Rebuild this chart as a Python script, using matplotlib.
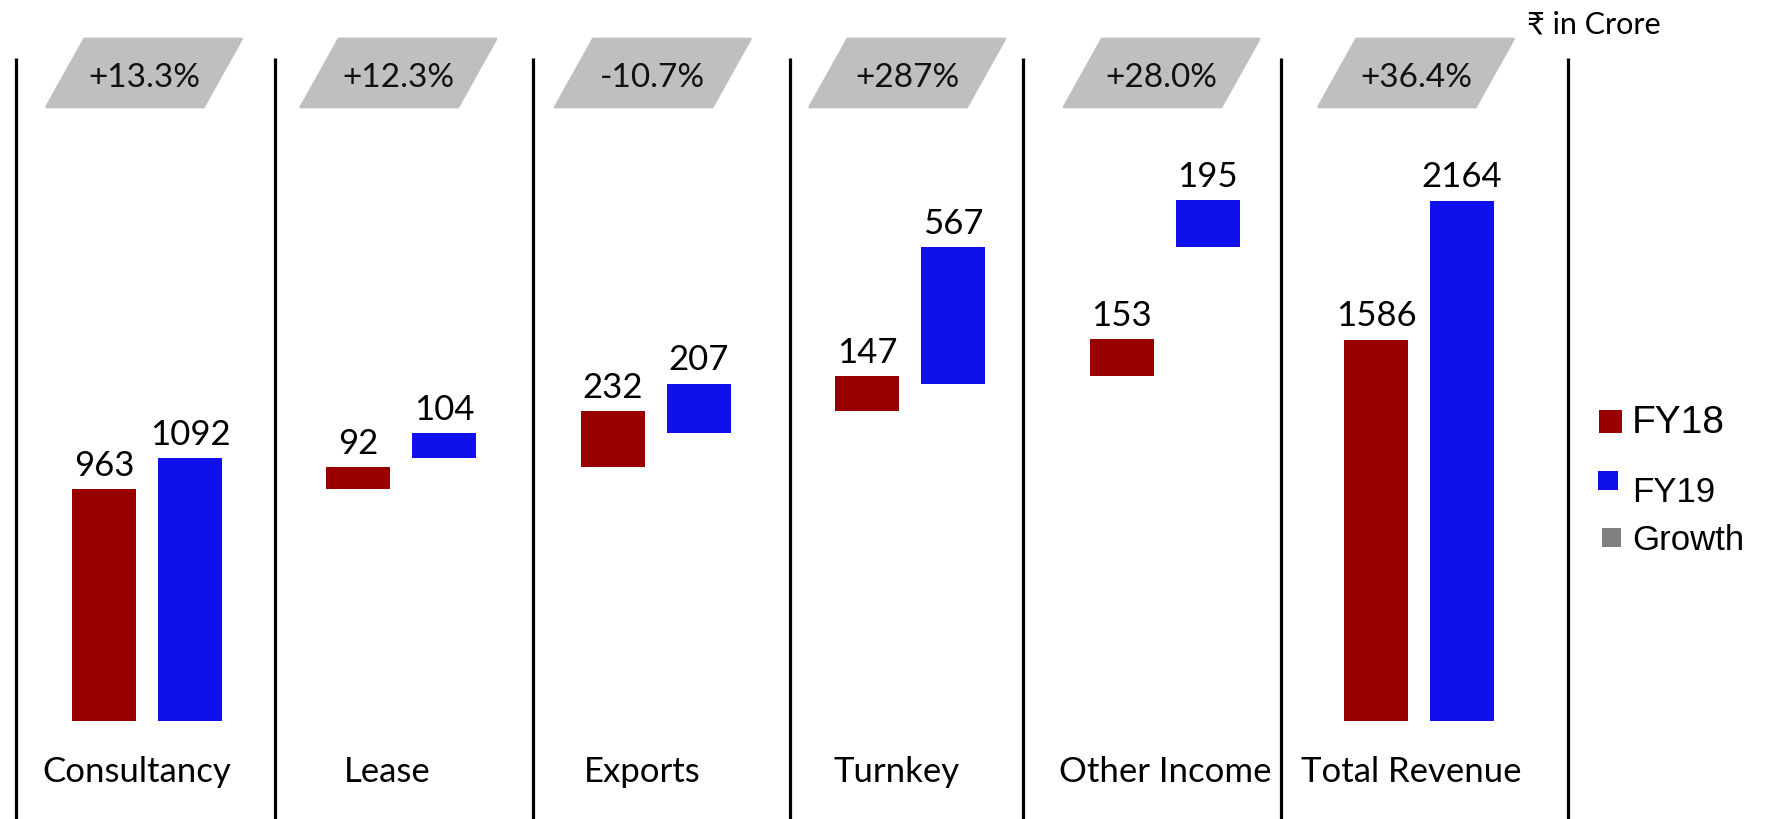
import matplotlib
matplotlib.use("Agg")
import matplotlib.pyplot as plt
from matplotlib.patches import Polygon, Rectangle
import numpy as np

# ---------------- data ----------------
categories = ["Consultancy", "Lease", "Exports", "Turnkey", "Other Income", "Total Revenue"]
fy18 = [963, 92, 232, 147, 153, 1586]
fy19 = [1092, 104, 207, 567, 195, 2164]
growth_labels = ["+13.3%", "+12.3%", "-10.7%", "+287%", "+28.0%", "+36.4%"]
is_total = [False, False, False, False, False, True]

# ---------------- layout (pixels) ----------------
W, H = 1769, 819
PX = 254.4      # px per category unit
PY = 0.2405     # px per value unit
X0 = 147        # px of first category centre
Y0 = 721        # px of baseline (from top)
C18 = "#990000"
C19 = "#1010EC"
FONT = ["Lato", "DejaVu Sans"]
label_shift_px = [-10, -14, -14, -14, 1, -8]


def dx(px):
    return (px - X0) / PX


def dy(py):
    return (Y0 - py) / PY


fig = plt.figure(figsize=(W / 100, H / 100), dpi=100)
ax = fig.add_axes([0, 0, 1, 1])
ax.set_xlim(dx(0), dx(W))
ax.set_ylim(dy(H), dy(0))
ax.axis("off")

x = np.arange(len(categories))
bw = 64 / PX
off = 43 / PX


def bottoms(vals):
    b, run = [], 0
    for v, t in zip(vals, is_total):
        if t:
            b.append(0)
        else:
            b.append(run)
            run += v
    return b


b18 = bottoms(fy18)
b19 = bottoms(fy19)

ax.bar(x - off, fy18, bw, bottom=b18, color=C18, edgecolor="none", zorder=3)
ax.bar(x + off, fy19, bw, bottom=b19, color=C19, edgecolor="none", zorder=3)

# value labels
for xi, v, b in zip(x - off, fy18, b18):
    ax.annotate(str(v), (xi, b + v), xytext=(0, 9.5), textcoords="offset points",
                ha="center", va="baseline", fontsize=25, family=FONT, color="black")
for xi, v, b in zip(x + off, fy19, b19):
    ax.annotate(str(v), (xi, b + v), xytext=(0, 9.5), textcoords="offset points",
                ha="center", va="baseline", fontsize=25, family=FONT, color="black")

# separators
sep_px = [16, 275, 533, 790, 1023, 1281, 1568]
ax.vlines([dx(p) for p in sep_px], dy(H + 5), dy(58), color="black", lw=2.3, zorder=2)

# category labels
for xi, c, s in zip(x, categories, label_shift_px):
    ax.text(xi + s / PX, dy(782), c, ha="center", va="baseline", fontsize=25,
            family=FONT, color="black")

# growth parallelograms
for xi, g in zip(x, growth_labels):
    cxp = X0 + xi * PX - 3
    top, bot = 39, 107
    half, sl = 78.5, 19
    pts = [(dx(cxp - half + sl), dy(top)), (dx(cxp + half + sl), dy(top)),
           (dx(cxp + half - sl), dy(bot)), (dx(cxp - half - sl), dy(bot))]
    ax.add_patch(Polygon(pts, closed=True, facecolor="#BFBFBF", edgecolor="#BFBFBF",
                         lw=2, joinstyle="round", zorder=2))
    ax.text(dx(cxp), dy(75), g, ha="center", va="center_baseline", fontsize=24,
            family=FONT, color="#111111", zorder=4)

# unit note
ax.text(dx(1527), dy(33), "\u20b9 in Crore", ha="left", va="baseline", fontsize=22,
        family=["Lato", "Noto Sans", "DejaVu Sans"], color="black")

# legend
legend_items = [("FY18", C18, (1599, 410, 23, 23), 433, 28),
                ("FY19", C19, (1598, 471, 20, 19), 502, 25),
                ("Growth", "#808080", (1602, 528, 19, 19), 550, 25)]
for name, col, (lx, ly, lw_, lh), base, fs in legend_items:
    ax.add_patch(Rectangle((dx(lx), dy(ly + lh)), lw_ / PX, lh / PY, facecolor=col,
                           edgecolor="none", zorder=3))
    ax.text(dx(1632), dy(base), name, ha="left", va="baseline", fontsize=fs,
            family=["Liberation Sans", "DejaVu Sans"], color="black")

fig.savefig("out.png", dpi=100)
